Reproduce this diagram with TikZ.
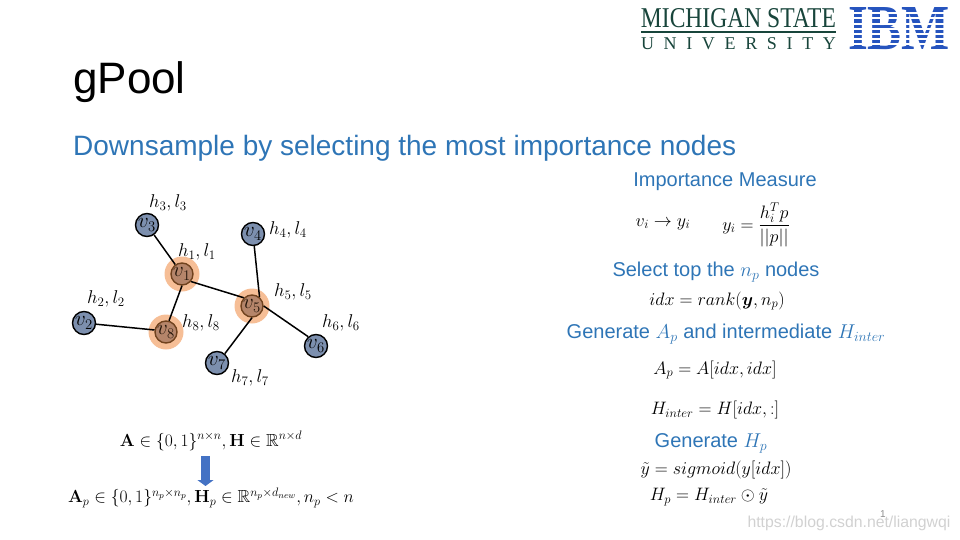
\documentclass[tikz,border=0pt]{standalone}
\usepackage{fix-cm}
\usepackage{amsmath,amssymb}
\usepackage[no-math]{fontspec}
\setmainfont{Liberation Sans}
\newfontfamily\logofont{Liberation Serif}
\usetikzlibrary{arrows.meta}
\definecolor{slideblue}{RGB}{46, 117, 182}
\definecolor{msugreen}{RGB}{24, 69, 59}
\definecolor{ibmblue}{RGB}{38, 84, 190}
\definecolor{nodeblue}{RGB}{124, 143, 174}
\definecolor{halo}{RGB}{246, 190, 150}
\definecolor{pickfill}{RGB}{181, 133, 106}
\definecolor{pickline}{RGB}{112, 66, 30}
\definecolor{arrowblue}{RGB}{68, 114, 196}

\begin{document}
\begin{tikzpicture}[
      x=1pt, y=-1pt,
      vertex/.style={circle, draw=black, fill=nodeblue, line width=1.4pt, inner sep=0pt, minimum size=23pt, font=\fontsize{21}{21}\selectfont},
      picked/.style={vertex, draw=pickline, fill=pickfill, minimum size=22pt, text=black!70!pickline},
      halonode/.style={circle, fill=halo, inner sep=0pt, minimum size=35pt},
      edge/.style={black, line width=1.5pt},
      vlabel/.style={inner sep=0pt, font=\fontsize{18.5}{20}\selectfont},
      heading/.style={inner sep=0pt, text=slideblue, font=\fontsize{20}{24}\selectfont},
      formula/.style={inner sep=0pt, font=\fontsize{18}{20}\selectfont}
    ]
      \useasboundingbox (0,0) rectangle (960,540);

      % logos
      \node[inner sep=0pt, text=msugreen, font=\logofont] (msu) at (738.5,18.5) {\resizebox{195pt}{19pt}{MICHIGAN STATE}};
      \node[inner sep=0pt, text=msugreen, font=\logofont\fontsize{18}{18}\selectfont] (univ) at (738.5,44) {\makebox[195pt][s]{U\hfil N\hfil I\hfil V\hfil E\hfil R\hfil S\hfil I\hfil T\hfil Y}};
      \coordinate (rulea) at (641,32);
      \coordinate (ruleb) at (836,32);
      \draw[msugreen, line width=1.7pt] (rulea) -- (ruleb);
      \node[inner sep=0pt, text=ibmblue, font=\logofont\bfseries] (ibm) at (899,29) {\resizebox{102pt}{42pt}{IBM}};
      \foreach \y in {13.2,18.4,23.6,28.8,34,39.2,44.4}
        \fill[white] (846,\y-1) rectangle (952,\y+1);

      \node[anchor=west, inner sep=0pt, font=\fontsize{44}{48}\selectfont] (title) at (73,82) {gPool};
      \node[anchor=west, inner sep=0pt, text=slideblue, font=\fontsize{28}{30}\selectfont] (subtitle) at (73,148) {Downsample by selecting the most importance nodes};

      % graph
      \node[halonode] (halo1) at (182,274) {};
      \node[halonode] (halo5) at (252,306) {};
      \node[halonode] (halo8) at (166,332) {};

      \node[vertex] (v3) at (147,225) {$v_3$};
      \node[vertex] (v4) at (253,234) {$v_4$};
      \node[vertex] (v2) at (84,323) {$v_2$};
      \node[vertex] (v7) at (217,363) {$v_7$};
      \node[vertex] (v6) at (316,346) {$v_6$};
      \node[picked] (v1) at (182,274) {$v_1$};
      \node[picked] (v5) at (252,306) {$v_5$};
      \node[picked] (v8) at (166,332) {$v_8$};

      \draw[edge] (v3) -- (v1);
      \draw[edge] (v1.south) -- (v8.75);
      \draw[edge] (v1.-40) -- (v5.135);
      \draw[edge] (v2) -- (v8.170);
      \draw[edge] (v4) -- (v5.50);
      \draw[edge] (v5.east) -- (v6.130);
      \draw[edge] (v5.south) -- (v7.50);

      \node[vlabel] (l3) at (168,203) {$h_3,l_3$};
      \node[vlabel] (l4) at (288,230) {$h_4,l_4$};
      \node[vlabel] (l1) at (197,252) {$h_1,l_1$};
      \node[vlabel] (l5) at (293,292) {$h_5,l_5$};
      \node[vlabel] (l8) at (201,323) {$h_8,l_8$};
      \node[vlabel] (l2) at (106,299) {$h_2,l_2$};
      \node[vlabel] (l6) at (341,323) {$h_6,l_6$};
      \node[vlabel] (l7) at (250,378) {$h_7,l_7$};

      % bottom left
      \node[inner sep=0pt, font=\fontsize{17.5}{20}\selectfont] (orig) at (211,441) {$\mathbf{A}\in\{0,1\}^{n\times n},\mathbf{H}\in\mathbb{R}^{n\times d}$};
      \node[inner sep=0pt, font=\fontsize{17.5}{20}\selectfont] (pool) at (211,498) {$\mathbf{A}_p\in\{0,1\}^{n_p\times n_p},\mathbf{H}_p\in\mathbb{R}^{n_p\times d_{new}},n_p<n$};
      \coordinate (downa) at (205.5,456);
      \coordinate (downb) at (205.5,486);
      \draw[arrowblue, line width=9pt, -{Triangle[width=16pt,length=6pt]}] (downa) -- (downb);

      % right column
      \node[heading] (measure) at (725,182) {Importance Measure};
      \node[formula] (map) at (663,224) {$v_i\rightarrow y_i$};
      \node[formula] (score) at (756,225) {$y_i=\dfrac{h_i^Tp}{||p||}$};
      \node[heading] (top) at (716,272) {Select top the $n_p$ nodes};
      \node[formula] (rank) at (717,301) {$idx=rank(\boldsymbol{y},n_p)$};
      \node[heading] (gena) at (726,334) {Generate $A_p$ and intermediate $H_{inter}$};
      \node[formula] (ap) at (715,370) {$A_p=A[idx,idx]$};
      \node[formula] (hinter) at (715,410) {$H_{inter}=H[idx,:]$};
      \node[heading] (genh) at (711,443) {Generate $H_p$};
      \node[formula] (sig) at (716,470) {$\tilde{y}=sigmoid(y[idx])$};
      \node[formula] (hp) at (709,497) {$H_p=H_{inter}\odot\tilde{y}$};

      % footer
      \node[inner sep=0pt, text=black!45, font=\fontsize{10}{12}\selectfont] (page) at (883,514) {1};
      \node[inner sep=0pt, text=black!18, font=\fontsize{15.8}{18}\selectfont] (mark) at (849,523) {https://blog.csdn.net/liangwqi};
    \end{tikzpicture}
\end{document}
